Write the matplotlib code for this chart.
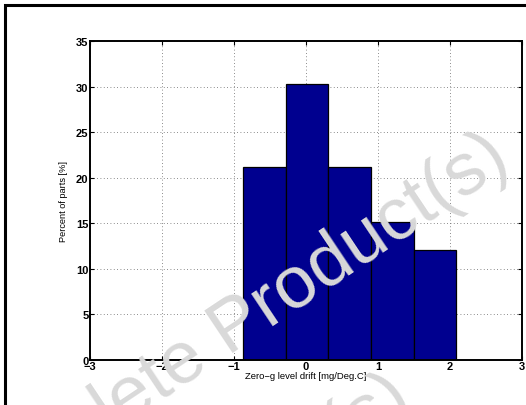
import matplotlib
matplotlib.use("Agg")
import matplotlib.pyplot as plt
from matplotlib.patches import Rectangle
import numpy as np

# histogram: 33 parts, percent per bin
bin_edges = [-0.87, -0.28, 0.31, 0.90, 1.50, 2.09]
percent = [21.2, 30.3, 21.2, 15.15, 12.1]
x_ticks = [-3, -2, -1, 0, 1, 2, 3]
y_ticks = [0, 5, 10, 15, 20, 25, 30, 35]

plt.rcParams['font.family'] = ['Liberation Sans', 'DejaVu Sans']

fig = plt.figure(figsize=(5.26, 4.06), dpi=100)
ax = fig.add_axes([90 / 526, 45 / 406, 432 / 526, 319 / 406])

widths = np.diff(bin_edges)
ax.bar(bin_edges[:-1], percent, width=widths, align='edge',
       color='#00008f', edgecolor='black', linewidth=0.9, zorder=2)

ax.set_xlim(-3, 3)
ax.set_ylim(0, 35)
ax.set_xticks(x_ticks)
ax.set_yticks(y_ticks)
ax.set_xticklabels([str(t).replace('-', '\u2212') for t in x_ticks],
                   fontweight='bold', fontsize=8)
ax.set_yticklabels([str(t) for t in y_ticks], fontweight='bold', fontsize=8)
ax.tick_params(direction='in', top=True, right=True, length=3, width=0.8, pad=1)
ax.grid(True, linestyle=(0, (1, 3)), color='#666666', linewidth=0.6, zorder=0)
ax.set_axisbelow(True)
for s in ax.spines.values():
    s.set_linewidth(1.4)

ax.set_xlabel('Zero\u2212g level drift [mg/Deg.C]', fontsize=6.8, labelpad=0)
ax.set_ylabel('Percent of parts [%]', fontsize=6.6, labelpad=6)

# outer frame (cropped on right/bottom)
fig.patches.append(Rectangle((5 / 526, -0.1), 1.2, 1 - 6 / 406 + 0.1,
                             transform=fig.transFigure, fill=False,
                             edgecolor='black', linewidth=2.2))

# watermark
ang = 33.7
d = np.array([np.cos(np.radians(ang)), -np.sin(np.radians(ang))])
n = np.array([np.sin(np.radians(ang)), np.cos(np.radians(ang))])
c1 = np.array([227.0, 333.0])
c2 = c1 + 146 * n + 115 * d
wm = dict(fontsize=53.5, color='#d9d9d9', rotation=ang, rotation_mode='anchor',
          va='center', zorder=10)
fig.text(c1[0] / 526, 1 - c1[1] / 406, 'Obsolete Product(s)', ha='center', **wm)
fig.text(c2[0] / 526, 1 - c2[1] / 406, 'Obsolete Product(s)', ha='right', **wm)

fig.savefig('out.png', dpi=100)
